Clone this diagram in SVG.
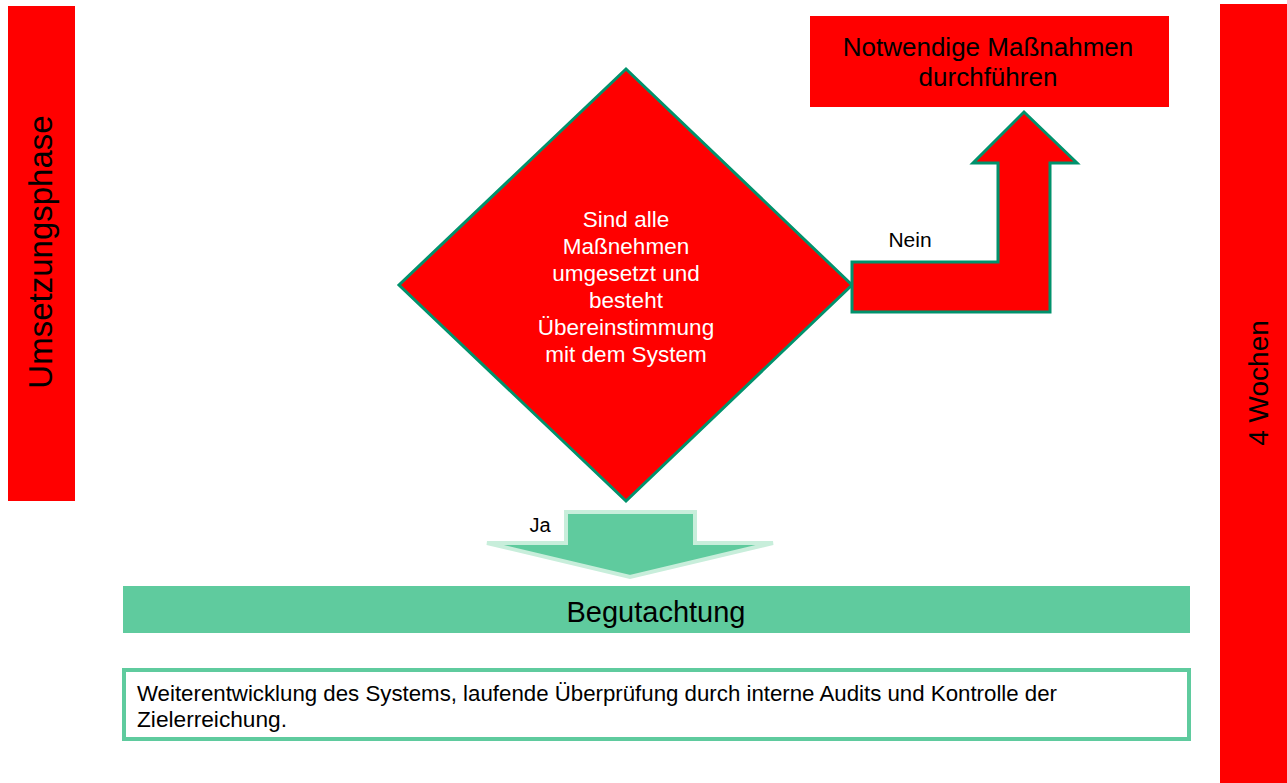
<svg xmlns="http://www.w3.org/2000/svg" width="1287" height="783" viewBox="0 0 1287 783">
<style>
text{font-family:"Liberation Sans",Arial,sans-serif;fill:#000}
.red{fill:#ff0000}
.dec{fill:#ff0000;stroke:#00926c;stroke-width:3}
.wt{fill:#ffffff;font-size:22.5px}
</style>
<rect width="1287" height="783" fill="#ffffff"/>
<g id="phase">
<rect class="red" x="8" y="6" width="67" height="495"/>
<text transform="translate(52,252) rotate(-90)" text-anchor="middle" font-size="33">Umsetzungsphase</text>
</g>
<g id="duration">
<rect class="red" x="1220" y="4" width="67" height="779"/>
<text transform="translate(1268,383) rotate(-90)" text-anchor="middle" font-size="28">4 Wochen</text>
</g>
<g id="measures">
<rect class="red" x="810" y="16" width="359" height="91"/>
<text x="988" y="56" text-anchor="middle" font-size="26">Notwendige Maßnahmen</text>
<text x="988" y="86" text-anchor="middle" font-size="26">durchführen</text>
</g>
<g id="decision">
<polygon class="dec" points="626,69 852,285 626,501 399,285"/>
<text class="wt" text-anchor="middle" x="626" y="227">Sind alle</text>
<text class="wt" text-anchor="middle" x="626" y="254">Maßnehmen</text>
<text class="wt" text-anchor="middle" x="626" y="281">umgesetzt und</text>
<text class="wt" text-anchor="middle" x="626" y="308">besteht</text>
<text class="wt" text-anchor="middle" x="626" y="335">Übereinstimmung</text>
<text class="wt" text-anchor="middle" x="626" y="362">mit dem System</text>
</g>
<g id="connectors">
<polygon class="dec" points="852,262 998,262 998,163 973,163 1024,112 1077,163 1050,163 1050,312 852,312"/>
<text x="910" y="247" text-anchor="middle" font-size="21">Nein</text>
<polygon points="566,512 695,512 695,543 773,543 630,577 487,543 566,543" fill="#5fcb9e" stroke="#c8eedb" stroke-width="4"/>
<text x="540" y="532" text-anchor="middle" font-size="20">Ja</text>
</g>
<g id="review">
<rect x="123" y="586" width="1067" height="47" fill="#5fcb9e"/>
<text x="656" y="622" text-anchor="middle" font-size="29">Begutachtung</text>
</g>
<g id="development">
<rect x="124" y="670" width="1065" height="69" fill="#ffffff" stroke="#5fcb9e" stroke-width="4"/>
<text x="137" y="701" font-size="22" textLength="920" lengthAdjust="spacingAndGlyphs">Weiterentwicklung des Systems, laufende Überprüfung durch interne Audits und Kontrolle der</text>
<text x="137" y="727" font-size="22" textLength="150" lengthAdjust="spacingAndGlyphs">Zielerreichung.</text>
</g>
</svg>
